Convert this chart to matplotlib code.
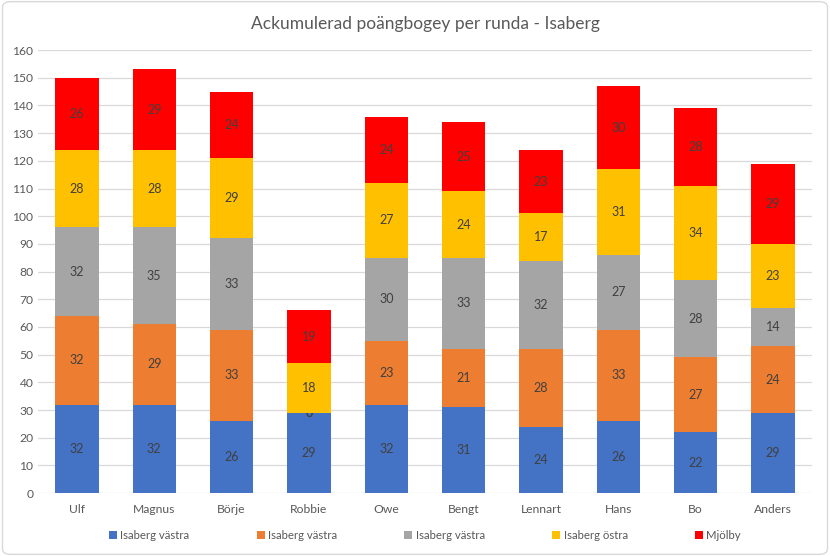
import numpy as np
import matplotlib.pyplot as plt
from matplotlib.patches import FancyBboxPatch

plt.rcParams['font.family'] = ['Lato', 'DejaVu Sans']

spelare = ["Ulf", "Magnus", "Börje", "Robbie", "Owe", "Bengt", "Lennart", "Hans", "Bo", "Anders"]
serie_namn = ["Isaberg västra", "Isaberg västra", "Isaberg västra", "Isaberg östra", "Mjölby"]
blaa = [32, 32, 26, 29, 32, 31, 24, 26, 22, 29]
orange = [32, 29, 33, 0, 23, 21, 28, 33, 27, 24]
graa = [32, 35, 33, 0, 30, 33, 32, 27, 28, 14]
gula = [28, 28, 29, 18, 27, 24, 17, 31, 34, 23]
roda = [26, 29, 24, 19, 24, 25, 23, 30, 28, 29]

farger = ["#4472C4", "#ED7D31", "#A5A5A5", "#FFC000", "#FF0000"]
textfarg = "#595959"

fig = plt.figure(figsize=(8.3, 5.56), dpi=100)
ax = fig.add_axes([0.046, 0.113, 0.932, 0.797])

x = np.arange(len(spelare))
botten = np.zeros(len(spelare))
for vals, namn, f in zip([blaa, orange, graa, gula, roda], serie_namn, farger):
    bars = ax.bar(x, vals, 0.56, bottom=botten, color=f, label=namn, zorder=3)
    ax.bar_label(bars, labels=[str(v) for v in vals], label_type='center',
                 color="#404040", fontsize=9)
    botten += np.array(vals)

ax.set_ylim(0, 160)
ax.set_xlim(-0.5, len(spelare) - 0.5)
ax.set_yticks(range(0, 161, 10))
ax.set_xticks(x)
ax.set_xticklabels(spelare)
ax.grid(axis='y', color="#d9d9d9", linewidth=0.9, zorder=0)
for s in ax.spines.values():
    s.set_visible(False)
ax.tick_params(length=0, colors=textfarg, labelsize=8.7)
ax.tick_params(axis='x', pad=8)

ax.set_title("Ackumulerad poängbogey per runda - Isaberg", color=textfarg, fontsize=12.5, pad=15)

ax.legend(loc='upper center', bbox_to_anchor=(0.5, -0.06), ncol=5, frameon=False,
          fontsize=8.2, labelcolor=textfarg, handlelength=0.7, handleheight=0.7,
          handletextpad=0.3, columnspacing=5.9)

ram = FancyBboxPatch((0.003, 0.003), 0.994, 0.994, boxstyle="round,pad=0,rounding_size=0.01",
                     transform=fig.transFigure, fill=False, edgecolor="#d9d9d9", linewidth=1)
fig.patches.append(ram)

fig.savefig("out.png", dpi=100)
